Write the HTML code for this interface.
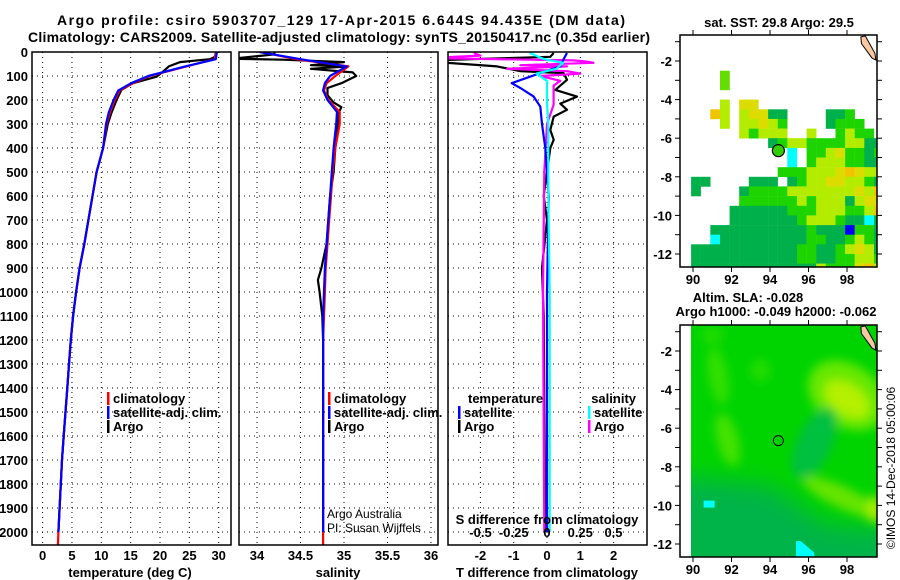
<!DOCTYPE html>
<html><head><meta charset="utf-8"><style>
html,body{margin:0;padding:0;background:#fff;}
svg{display:block;font-family:"Liberation Sans",sans-serif;}
.b{font-weight:bold;font-size:13px;}
.t{font-weight:bold;font-size:14px;}
</style></head><body>
<svg id="c" width="900" height="580" viewBox="0 0 900 580">
<defs>
<clipPath id="p1"><rect x="32" y="52" width="199" height="493"/></clipPath>
<clipPath id="p2"><rect x="239" y="52" width="199" height="493"/></clipPath>
<clipPath id="p3"><rect x="448" y="52" width="199" height="493"/></clipPath>
<clipPath id="m1"><rect x="680" y="35" width="197" height="232"/></clipPath>
<clipPath id="m2"><rect x="691" y="325" width="186" height="232"/></clipPath>
<filter id="bl" x="-50%" y="-50%" width="200%" height="200%"><feGaussianBlur stdDeviation="5"/></filter>
<filter id="bl2" x="-50%" y="-50%" width="200%" height="200%"><feGaussianBlur stdDeviation="12"/></filter>
</defs>
<text class="t" x="57" y="25" textLength="568" lengthAdjust="spacing">Argo profile: csiro 5903707_129 17-Apr-2015 6.644S 94.435E (DM data)</text>
<text class="t" x="28" y="42" textLength="622" lengthAdjust="spacing">Climatology: CARS2009. Satellite-adjusted climatology: synTS_20150417.nc (0.35d earlier)</text>
<g id="g"></g>
</svg>
<script>
// ---- data ----
const depthTicks=[0,100,200,300,400,500,600,700,800,900,1000,1100,1200,1300,1400,1500,1600,1700,1800,1900,2000];
const tempTicks=[0,5,10,15,20,25,30];
const salTicks=[34,34.5,35,35.5,36];
const dTTicks=[-2,-1,0,1,2];
const dSTicks=[-0.5,-0.25,0,0.25,0.5];
const dSLabels=["-0.5","-0.25","0","0.25","0.5"];
const lonTicks=[90,92,94,96,98];
const latTicks=[-2,-4,-6,-8,-10,-12];

const zClim=[0,30,60,100,130,160,200,250,300,400,500,600,700,800,900,1000,1100,1200,1300,1400,1500,1600,1700,1800,1900,2000,2055];
const tClim=[29.6,29.3,24.5,18.2,15.4,13.1,12.3,11.5,10.9,10.3,9.2,8.5,7.8,7.1,6.3,5.7,5.2,4.8,4.5,4.2,3.9,3.6,3.3,3.1,2.9,2.7,2.6];
const tSat=[29.7,29.5,24.3,18.0,15.1,12.9,12.1,11.3,10.8,10.3,9.2,8.5,7.8,7.1,6.3,5.7,5.2,4.8,4.5,4.2,3.9,3.6,3.3,3.1,2.9,2.7,null];
const zArgo=[0,20,30,42,60,82,103,130,158,200,255,300,400,500,600,700,800,900,1000,1100,1200,1300,1400,1500,1600,1700,1800,1900,2000];
const tArgo=[29.5,29.4,28.5,23.4,21.5,20.5,19.4,15.4,13.4,12.6,11.7,11.1,10.3,9.2,8.5,7.8,7.1,6.3,5.7,5.2,4.8,4.5,4.2,3.9,3.6,3.3,3.1,2.9,2.7];

const sClim=[34.05,34.45,35.05,34.9,34.8,34.77,34.82,34.95,34.95,34.9,34.87,34.85,34.83,34.81,34.79,34.78,34.77,34.76,34.76,34.76,34.76,34.76,34.76,34.76,34.76,34.76,34.76];
const sSat=[34.03,34.5,35.03,34.84,34.78,34.76,34.81,34.92,34.91,34.88,34.86,34.84,34.82,34.8,34.78,34.77,34.76,34.76,34.76,34.76,34.76,34.76,34.76,34.76,34.76,34.76,null];
const zSA=[0,10,25,28,32,42,55,60,70,85,100,130,150,180,210,230,260,300,400,500,600,800,900,950,1000,1100,1200,1500,2000];
const sArgo=[34.2,34.2,33.8,33.7,34.3,35.0,34.62,35.05,34.62,35.1,35.14,34.97,34.81,34.81,34.88,34.97,34.93,34.93,34.9,34.88,34.84,34.8,34.74,34.7,34.72,34.75,34.76,34.76,34.76];

const zDT=[4,20,33,45,60,80,88,116,158,186,215,241,269,325,366,400,500,600,700,900,1100,1500,2000];
const dTArgo=[0.2,0.1,-3.0,-3.0,-1.5,-0.8,0.5,0.6,0.25,0.9,0.4,0.6,0.2,0.1,0.2,0.1,0.0,-0.1,0.0,-0.15,-0.1,-0.08,-0.05];
const zDTs=[4,30,60,88,130,150,186,228,300,400,600,1000,2000];
const dTSat=[0.6,0.5,0.4,-0.2,-1.06,-0.8,-0.4,-0.2,-0.15,-0.05,0.05,0.0,0.0];
const zDS=[4,15,25,35,40,45,55,60,70,80,90,100,120,140,180,220,300,500,1000,2000];
const dSArgo=[-0.55,-0.5,-0.9,0.2,0.3,0.35,-0.2,0.15,-0.3,0.15,0.25,-0.05,0.1,0.05,0.05,0.05,0.0,-0.02,-0.03,-0.02];
const zDSs=[4,30,45,70,90,120,150,210,300,600,1000,2000];
const dSSat=[-0.13,-0.02,0.12,0.07,-0.08,0.0,0.0,0.0,0.01,0.01,0.02,0.02];

const sstRows=[
"....................",
"....................",
"....................",
"...l................",
"...l................",
"....................",
"...y.YY.............",
"..oy.yYYgg....ggG...",
"...y.yyYyG....gGGG..",
".....yGyyy..y..GyGG.",
"........gGyyGGGGyygg",
"..........c.GGyYGGgG",
"..........c.GyyyGGgg",
".........GGGyyyYoYyy",
"gg....ggg.gGyyYYyyGg",
"g....gGGGGyyyyyyyYyo",
".....GGGGGGyGyyygyYY",
"....ggggggGGGyyyGGyo",
"....gggggggGyyyGggcg",
"..ggggggggggGgggbGGg",
"..cgggggggggGGggGyGg",
"gggggggggggGGggGyYyg",
"gggggggggggGGggGGyyG",
"gggggggggggggyGGGYoy"];
const sstColors={g:"#00b04a",G:"#1ed400",l:"#66dd00",y:"#b4ec00",Y:"#dcdc00",o:"#f2c400",c:"#00ffff",b:"#0000ff"};
const argoLon=94.435, argoLat=-6.644;
const slaLon=[91.3,91.8,98.0,98.0,96.3,97.8,99.4,93.5,91.0];
const slaLat=[-3.3,-6.6,-4.3,-4.5,-6.8,-9.6,-10.2,-3.0,-1.2];
const slaRx=[0.5,0.55,2.2,1.3,0.9,2.3,0.35,0.5,0.6];
const slaRy=[1.5,1.4,1.6,0.8,2.0,0.55,0.7,0.6,0.4];
const slaRot=[-10,-15,35,35,25,25,0,0,0];
const slaCol=["#33e000","#44e200","#66e800","#b4f000","#00c040","#66e400","#aaee00","#22dc00","#22dc00"];

// ---- helpers ----
const NS="http://www.w3.org/2000/svg";
const root=document.getElementById('g');
function mk(tag,attrs,parent){const e=document.createElementNS(NS,tag);for(const k in attrs)e.setAttribute(k,attrs[k]);(parent||root).appendChild(e);return e;}
const yD=d=>52+d*0.24;
const xT=t=>42.6+t*5.87;
const xS=s=>257+(s-34)*87;
const xDT=v=>547+v*33.3;
const xDS=v=>547+v*133;
const axTop=52,axBot=545;

function panel(x0,name){
  const g=mk('g',{});
  
  
  depthTicks.forEach(d=>{
    const l=mk('line',{x1:x0,x2:x0+199,y1:yD(d),y2:yD(d),stroke:'#000','stroke-width':1,'stroke-dasharray':'1,4'},g);
    
    
  });
  return g;
}
function vgrid(g,xs){xs.forEach(x=>{const l=mk('line',{x1:x,x2:x,y1:axTop,y2:axBot,stroke:'#000','stroke-width':1,'stroke-dasharray':'1,4'},g);
  
  });}
function frame(g,x0){const r=mk('rect',{x:x0,y:axTop,width:199,height:axBot-axTop,fill:'none',stroke:'#000','stroke-width':1.5},g);
  
  }
function line(g,zs,vs,fx,color,name,clip,w){
  const pts=[];zs.forEach((z,i)=>{if(vs[i]!==null)pts.push(fx(vs[i]).toFixed(1)+','+yD(z).toFixed(1));});
  const p=mk('polyline',{points:pts.join(' '),fill:'none',stroke:color,'stroke-width':w||2.2,'clip-path':'url(#'+clip+')','stroke-linejoin':'round'},g);
  
  
}
function txt(g,x,y,s,anchor,cls,name,extra){const t=mk('text',Object.assign({x:x,y:y,'text-anchor':anchor||'start'},cls?{class:cls}:{},extra||{}),g);t.textContent=s;
  
  return t;}
function legendEntry(g,x,y,color,label,name){
  const m=mk('rect',{x:x,y:y-11,width:2.5,height:13,fill:color},g);
  
  
  txt(g,x+6,y,label,'start','b',name);
}

// ---- panel 1 temperature ----
const g1=panel(32,'temperature-panel');
vgrid(g1,tempTicks.map(xT));
line(g1,zArgo,tArgo,xT,'#000','argo-temperature-line','p1');
line(g1,zClim,tClim,xT,'#ff0000','climatology-temperature-line','p1');
line(g1,zClim,tSat,xT,'#0000ff','satellite-temperature-line','p1');
frame(g1,32);
depthTicks.forEach(d=>txt(g1,28,yD(d)+5,String(d),'end','b','depth-tick-label'));
tempTicks.forEach(t=>txt(g1,xT(t),560,String(t),'middle','b','temperature-tick-label'));
txt(g1,130,577,'temperature (deg C)','middle','b','x-axis-title-temperature');
legendEntry(g1,107,403,'#ff0000','climatology','legend-entry-climatology');
legendEntry(g1,107,417,'#0000ff','satellite-adj. clim.','legend-entry-satellite');
legendEntry(g1,107,431,'#000','Argo','legend-entry-argo');

// ---- panel 2 salinity ----
const g2=panel(239,'salinity-panel');
vgrid(g2,salTicks.map(xS));
line(g2,zSA,sArgo,xS,'#000','argo-salinity-line','p2');
line(g2,zClim,sClim,xS,'#ff0000','climatology-salinity-line','p2');
line(g2,zClim,sSat,xS,'#0000ff','satellite-salinity-line','p2');
frame(g2,239);
salTicks.forEach(s=>txt(g2,xS(s),560,String(s),'middle','b','salinity-tick-label'));
txt(g2,338,577,'salinity','middle','b','x-axis-title-salinity');
legendEntry(g2,328,403,'#ff0000','climatology','legend-entry-climatology-sal');
legendEntry(g2,328,417,'#0000ff','satellite-adj. clim.','legend-entry-satellite-sal');
legendEntry(g2,328,431,'#000','Argo','legend-entry-argo-sal');
txt(g2,327,518,'Argo Australia','start','','credit-argo-australia',{style:'font-size:12px'});
txt(g2,327,532,'PI: Susan Wijffels','start','','credit-pi',{style:'font-size:12px'});

// ---- panel 3 differences ----
const g3=panel(448,'difference-panel');
vgrid(g3,dTTicks.map(xDT));
line(g3,zDT,dTArgo,xDT,'#000','argo-temperature-difference-line','p3');
line(g3,zDS,dSArgo,xDS,'#ff00ff','argo-salinity-difference-line','p3');
line(g3,zDTs,dTSat,xDT,'#0000ff','satellite-temperature-difference-line','p3');
line(g3,zDSs,dSSat,xDS,'#00ffff','satellite-salinity-difference-line','p3');
frame(g3,448);
dTTicks.forEach(t=>txt(g3,xDT(t),560,String(t),'middle','b','t-difference-tick-label'));
dSTicks.forEach((s,i)=>txt(g3,xDS(s),537,dSLabels[i],'middle','b','s-difference-tick-label'));
txt(g3,547,524,'S difference from climatology','middle','b','s-difference-axis-title');
txt(g3,547,577,'T difference from climatology','middle','b','t-difference-axis-title');
txt(g3,468,403,'temperature','start','b','legend-title-temperature');
legendEntry(g3,458,417,'#0000ff','satellite','legend-entry-t-satellite');
legendEntry(g3,458,431,'#000','Argo','legend-entry-t-argo');
txt(g3,636,403,'salinity','end','b','legend-title-salinity');
legendEntry(g3,588,417,'#00ffff','satellite','legend-entry-s-satellite');
legendEntry(g3,588,431,'#ff00ff','Argo','legend-entry-s-argo');

// ---- maps ----
function mapAxes(yTop){
  const px=lon=>693+(lon-90)*19.25;
  const py=lat=>yTop+26+(-2-lat)*19.3;
  return {px,py};
}
function mapFrame(gm,yTop,px,py){
  const r=mk('rect',{x:680,y:yTop,width:197,height:232,fill:'none',stroke:'#000','stroke-width':1.5},gm);
  
  
  lonTicks.forEach(l=>{mk('line',{x1:px(l),x2:px(l),y1:yTop,y2:yTop-5,stroke:'#000'},gm);mk('line',{x1:px(l),x2:px(l),y1:yTop+232,y2:yTop+237,stroke:'#000'},gm);
    txt(gm,px(l),yTop+249,String(l),'middle','b','longitude-tick-label');});
  latTicks.forEach(l=>{mk('line',{x1:675,x2:680,y1:py(l),y2:py(l),stroke:'#000'},gm);mk('line',{x1:877,x2:882,y1:py(l),y2:py(l),stroke:'#000'},gm);
    txt(gm,672,py(l)+5,String(l),'end','b','latitude-tick-label');});
  [-1,-3,-5,-7,-9,-11].forEach(l=>{mk('line',{x1:675,x2:680,y1:py(l),y2:py(l),stroke:'#000'},gm);mk('line',{x1:877,x2:882,y1:py(l),y2:py(l),stroke:'#000'},gm);});
}
function island(gm,px,py){
  const p=mk('path',{d:`M${px(98.72)},${py(-0.75)} L${px(98.95)},${py(-0.7)} L${px(99.45)},${py(-1.6)} L${px(99.5)},${py(-1.95)} L${px(99.3)},${py(-1.85)} L${px(98.75)},${py(-1.1)} Z`,fill:'#f8c8a0',stroke:'#000','stroke-width':1},gm);
  
  
}
// SST map
const gm1=mk('g',{});


const A1=mapAxes(35);
const cells=mk('g',{'clip-path':'url(#m1)'},gm1);
sstRows.forEach((row,r)=>{[...row].forEach((ch,k)=>{ if(ch==='.')return;
  const lon=89.9+0.5*k, lat=-1-0.5*r;
  const x=A1.px(lon), y=A1.py(lat);
  const c=mk('rect',{x:x.toFixed(1),y:y.toFixed(1),width:9.8,height:9.9,fill:sstColors[ch]},cells);
  
  
});});
island(gm1,A1.px,A1.py);
const c1=mk('circle',{cx:A1.px(argoLon),cy:A1.py(argoLat),r:6,fill:'#33cc00',stroke:'#000','stroke-width':1.2},gm1);


mapFrame(gm1,35,A1.px,A1.py);
txt(gm1,779,27,'sat. SST: 29.8 Argo: 29.5','middle','b','sst-map-title');

// SLA map
const gm2=mk('g',{});


const A2=mapAxes(325);
const sl=mk('g',{'clip-path':'url(#m2)'},gm2);
const bgr=mk('rect',{x:691,y:325,width:190,height:232,fill:'#00d400'},sl);


const dk=mk('path',{d:`M650,${A2.py(-8.3)} L${A2.px(94)},${A2.py(-9)} L${A2.px(97)},${A2.py(-11)} L910,${A2.py(-11.3)} L910,600 L650,600 Z`,fill:'#00b448',filter:'url(#bl2)'},sl);


const bg2=mk('g',{filter:'url(#bl)'},sl);
slaLon.forEach((lon,i)=>{
  const cx=A2.px(lon), cy=A2.py(slaLat[i]);
  const e=mk('ellipse',{cx:cx,cy:cy,rx:slaRx[i]*19.25,ry:slaRy[i]*19.3,fill:slaCol[i],transform:`rotate(${slaRot[i]} ${cx} ${cy})`},bg2);
  
  
});
const cy1=mk('rect',{x:A2.px(90.55),y:A2.py(-9.75),width:11,height:7,fill:'#00ffff'},sl);


const cy2=mk('path',{d:`M${A2.px(95.35)},${A2.py(-11.85)} L${A2.px(95.6)},${A2.py(-11.85)} L${A2.px(96.3)},${A2.py(-12.45)} L${A2.px(96.3)},${A2.py(-12.8)} L${A2.px(95.35)},${A2.py(-12.8)} Z`,fill:'#00ffff'},sl);


island(gm2,A2.px,A2.py);
const c2=mk('circle',{cx:A2.px(argoLon),cy:A2.py(argoLat),r:5,fill:'none',stroke:'#000','stroke-width':1},gm2);


mapFrame(gm2,325,A2.px,A2.py);
txt(gm2,748,302,'Altim. SLA: -0.028','middle','b','sla-map-title');
txt(gm2,776,316,'Argo h1000: -0.049 h2000: -0.062','middle','b','argo-height-title');

txt(root,0,0,'©IMOS 14-Dec-2018 05:00:06','middle','','copyright-stamp',{transform:'translate(895,468) rotate(-90)',style:'font-size:12px'});
</script>
</body></html>
